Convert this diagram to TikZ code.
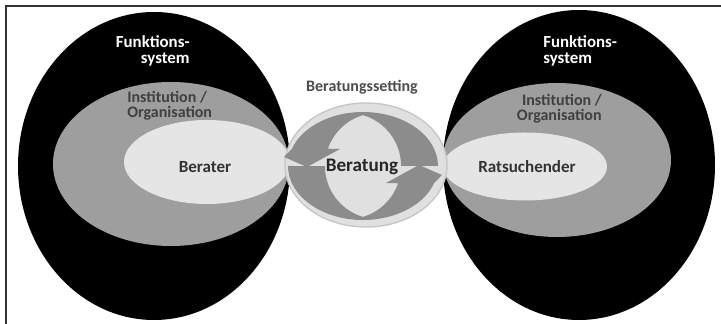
\documentclass[tikz,border=0pt]{standalone}
\usepackage{fontspec}
\setmainfont{Carlito}
\usepackage{xcolor}

\begin{document}
\begin{tikzpicture}[x=0.02cm,y=0.02cm]
\tikzset{
  sysring/.style={fill=black},
  orgring/.style={fill=black!38},
  personring/.style={fill=black!10},
  settingring/.style={fill=black!12, draw=black!22, line width=0.8pt},
  loopband/.style={fill=black!45},
  syslabel/.style={inner sep=0pt, text=white, font=\bfseries\fontsize{9.6}{9.5}\selectfont},
  orglabel/.style={inner sep=0pt, text=black!75, font=\bfseries\fontsize{9.1}{8.9}\selectfont},
  personlabel/.style={inner sep=0pt, text=black!80, font=\bfseries\fontsize{9.7}{10}\selectfont},
}
\useasboundingbox (0,0) rectangle (721,324);
\draw [line width=1pt, black!80] (6,0) -- (6,318) -- (721,318);

% left side
\fill [sysring] (154,158) ellipse [x radius=136, y radius=154];
\fill [orgring] (171,160) ellipse [x radius=118, y radius=82];
\fill [personring] (207,162) ellipse [x radius=83, y radius=42];
\node [syslabel, align=right, anchor=base east] (sysleft) at (190,260) {Funktions-\\system};
\node [orglabel, align=left, anchor=base west] (orgleft) at (127,206) {Institution /\\Organisation};
\node [personlabel, anchor=base] (berater) at (205,151) {Berater};

% right side
\fill [sysring] (579,159) ellipse [x radius=136, y radius=155];
\fill [orgring] (557,164) ellipse [x radius=114, y radius=77];
\fill [personring] (525,157.5) ellipse [x radius=82, y radius=34];
\node [syslabel, align=left, anchor=base west] (sysright) at (543,260) {Funktions-\\system};
\node [orglabel, align=right, anchor=base east] (orgright) at (602,203) {Institution /\\Organisation};
\node [personlabel, anchor=base] (ratsuchender) at (527,151) {Ratsuchender};

% setting in the middle
\filldraw [settingring] (366,159) ellipse [x radius=81, y radius=62];
\fill [loopband] (438,158) arc [start angle=0, end angle=162, x radius=75, y radius=54]
  -- (284,167) -- (307,157) -- (340,175) -- (327.9,175.3)
  arc [start angle=161, end angle=106.4, radius=53]
  arc [start angle=73.6, end angle=0, radius=53] -- cycle;
\begin{scope}[rotate around={180:(363,158)}]
\fill [loopband] (438,158) arc [start angle=0, end angle=162, x radius=75, y radius=54]
  -- (284,167) -- (307,157) -- (340,175) -- (327.9,175.3)
  arc [start angle=161, end angle=106.4, radius=53]
  arc [start angle=73.6, end angle=0, radius=53] -- cycle;
\end{scope}
\node [inner sep=0pt, text=black!70, font=\bfseries\fontsize{9.1}{10}\selectfont, anchor=base] (setting) at (362,232) {Beratungssetting};
\node [inner sep=0pt, text=black!85, font=\bfseries\fontsize{10.9}{12}\selectfont, anchor=base] (beratung) at (362,152) {Beratung};
\end{tikzpicture}
\end{document}
